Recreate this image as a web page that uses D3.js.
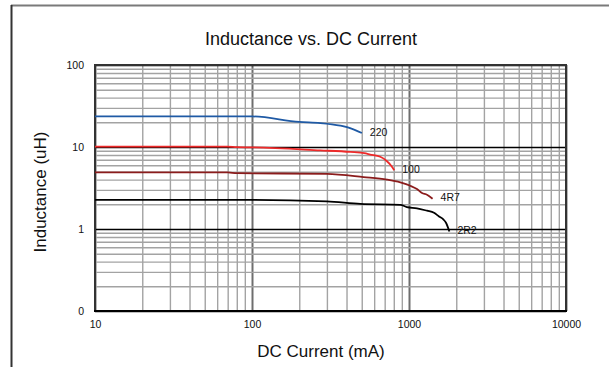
<!DOCTYPE html>
<meta charset="utf-8">
<style>
body { margin: 0; background: #fff; }
svg { font-family: "Liberation Sans", Arial, sans-serif; }
.grid line { stroke: #a3a3a3; stroke-width: 1.4px; }
.grid path { display: none; }
.curve { fill: none; stroke-width: 1.8px; }
</style>
<body>
<svg width="609" height="367"></svg>
</body>
<script src="https://d3js.org/d3.v7.min.js"></script>
<script>
// values (current in mA, inductance in uH)
var seriesNames = ["220", "100", "4R7", "2R2"];
var seriesColors = ["#1f5aa5", "#ee2a2a", "#8b1c1c", "#000000"];

var current220 = [10, 100, 200, 272, 365, 430, 501];
var ind220     = [23.6, 23.6, 20.2, 19.6, 18.2, 16.8, 14.8];

var current100 = [10, 70, 80, 100, 272, 423, 520, 566, 656, 724, 770, 806];
var ind100     = [10.1, 10.1, 9.95, 9.9, 9.1, 8.7, 8.4, 8.1, 7.6, 6.7, 5.9, 5.2];

var current4R7 = [10, 70, 80, 300, 514, 724, 881, 1019, 1124, 1210, 1302, 1413];
var ind4R7     = [4.9, 4.9, 4.8, 4.7, 4.3, 4.0, 3.7, 3.37, 3.07, 2.75, 2.62, 2.34];

var current2R2 = [10, 100, 300, 490, 881, 970, 1124, 1302, 1443, 1546, 1660, 1720, 1808];
var ind2R2     = [2.26, 2.26, 2.17, 2.02, 1.97, 1.85, 1.79, 1.67, 1.58, 1.43, 1.30, 1.19, 0.93];

var xTicks = [10, 100, 1000, 10000];
var xTickLabels = ["10", "100", "1000", "10000"];
var yTicks = [0.1, 1, 10, 100];
var yTickLabels = ["0", "1", "10", "100"];

var currents = [current220, current100, current4R7, current2R2];
var inductances = [ind220, ind100, ind4R7, ind2R2];

var data = seriesNames.map(function(name, i) {
    return {
        name: name,
        color: seriesColors[i],
        values: currents[i].map(function(c, j) { return {x: c, y: inductances[i][j]}; })
    };
});

var margin = {left: 95, top: 65, right: 43, bottom: 56};
var svg = d3.select("svg");
var width  = 609 - margin.left - margin.right;
var height = 367 - margin.top - margin.bottom;

// outer frame (cut off on the right and bottom)
svg.append("line").attr("x1", 11).attr("x2", 609).attr("y1", 5.5).attr("y2", 5.5)
    .attr("stroke", "#7a7a7a").attr("stroke-width", 2);
svg.append("line").attr("x1", 11.5).attr("x2", 11.5).attr("y1", 5).attr("y2", 367)
    .attr("stroke", "#333").attr("stroke-width", 2);

var g = svg.append("g")
    .attr("transform", "translate(" + margin.left + "," + margin.top + ")");

var xScale = d3.scaleLog().domain([10, 10000]).range([0, width]);
var yScale = d3.scaleLog().domain([0.1, 100]).range([height, 0]);

// minor grid
g.append("g")
    .attr("class", "grid")
    .attr("transform", "translate(0," + height + ")")
    .call(d3.axisBottom(xScale).tickSize(-height).tickFormat(""))
    .selectAll(".tick line")
    .attr("stroke", function(d) { return xTicks.indexOf(d) >= 0 ? "#6e6e6e" : null; })
    .style("stroke", function(d) { return xTicks.indexOf(d) >= 0 ? "#6e6e6e" : null; })
    .style("stroke-width", function(d) { return xTicks.indexOf(d) >= 0 ? "2px" : null; });

g.append("g")
    .attr("class", "grid")
    .call(d3.axisLeft(yScale).tickSize(-width).tickFormat(""))
    .selectAll(".tick line")
    .style("stroke", function(d) { return yTicks.indexOf(d) >= 0 ? "#000" : null; })
    .style("stroke-width", function(d) { return yTicks.indexOf(d) >= 0 ? "1.4px" : null; });

// plot border
g.append("rect")
    .attr("width", width).attr("height", height)
    .attr("fill", "none").attr("stroke", "#333").attr("stroke-width", 2);
g.append("line").attr("x1", -1).attr("x2", width + 1).attr("y1", height).attr("y2", height)
    .attr("stroke", "#000").attr("stroke-width", 2);

// tick labels
var xAxis = g.append("g")
    .attr("transform", "translate(0," + height + ")")
    .call(d3.axisBottom(xScale).tickValues(xTicks).tickSize(0).tickPadding(10)
        .tickFormat(function(d, i) { return xTickLabels[i]; }));
var yAxis = g.append("g")
    .call(d3.axisLeft(yScale).tickValues(yTicks).tickSize(0).tickPadding(11)
        .tickFormat(function(d, i) { return yTickLabels[i]; }));
[xAxis, yAxis].forEach(function(a) {
    a.select(".domain").remove();
    a.selectAll("text").attr("font-size", "10.5px").attr("fill", "#111")
        .attr("font-family", "Liberation Sans, Arial, sans-serif");
});

var line = d3.line()
    .curve(d3.curveMonotoneX)
    .x(function(d) { return xScale(d.x); })
    .y(function(d) { return yScale(d.y); });

g.selectAll(".curve")
    .data(data)
    .enter().append("path")
    .attr("class", "curve")
    .style("stroke", function(d) { return d.color; })
    .attr("d", function(d) { return line(d.values); });

// end labels
g.selectAll(".endLabel")
    .data(data)
    .enter().append("text")
    .attr("class", "endLabel")
    .attr("x", function(d) { var p = d.values[d.values.length - 1]; return xScale(p.x) + 8; })
    .attr("y", function(d) { var p = d.values[d.values.length - 1]; return yScale(p.y) - 1; })
    .attr("dy", "0.35em")
    .attr("font-size", "10.5px")
    .attr("fill", "#111")
    .text(function(d) { return d.name; });

svg.append("text")
    .attr("x", 311).attr("y", 45)
    .attr("text-anchor", "middle")
    .attr("font-size", "18px")
    .attr("fill", "#111")
    .text("Inductance vs. DC Current");

svg.append("text")
    .attr("x", 321).attr("y", 357)
    .attr("text-anchor", "middle")
    .attr("font-size", "17px")
    .attr("fill", "#111")
    .text("DC Current (mA)");

svg.append("text")
    .attr("transform", "translate(46," + 192 + ") rotate(-90)")
    .attr("text-anchor", "middle")
    .attr("font-size", "17px")
    .attr("fill", "#111")
    .text("Inductance (uH)");
</script>
